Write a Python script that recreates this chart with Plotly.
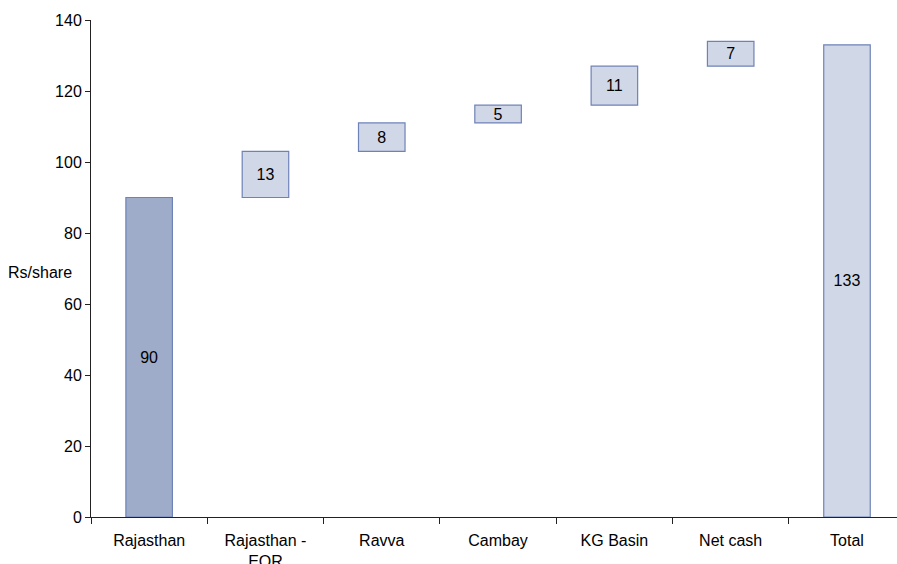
import plotly.graph_objects as go

# Sum-of-the-parts valuation, Rs per share
categories = ["Rajasthan", "Rajasthan -<br>EOR", "Ravva", "Cambay", "KG Basin", "Net cash", "Total"]
component_values = [90, 13, 8, 5, 11, 7]
total_value = 133
y_ticks = [0, 20, 40, 60, 80, 100, 120, 140]

# Floating bases for the step components (each starts where the previous one ended)
bases = []
running = 0
for v in component_values:
    bases.append(running)
    running += v

values = component_values + [total_value]
bar_bases = bases + [0]

dark_fill = "#9eacca"
light_fill = "#d0d7e7"
edge = "#6f82b8"
fills = [dark_fill] + [light_fill] * (len(values) - 1)

FONT = "Liberation Sans, Arial, sans-serif"
FS = 16

fig = go.Figure(
    go.Bar(
        x=categories,
        y=values,
        base=bar_bases,
        width=0.4,
        marker=dict(color=fills, line=dict(color=edge, width=1.2)),
        text=[str(v) for v in values],
        textposition="inside",
        insidetextanchor="middle",
        textangle=0,
        textfont=dict(family=FONT, size=FS, color="#000000"),
        hoverinfo="skip",
    )
)

fig.update_layout(
    width=897,
    height=564,
    margin=dict(l=91, r=0, t=20, b=47),
    paper_bgcolor="white",
    plot_bgcolor="white",
    showlegend=False,
    font=dict(family=FONT, size=FS, color="#000000"),
    uniformtext=dict(minsize=FS, mode="show"),
    bargap=0.6,
)

fig.update_xaxes(
    type="category",
    range=[-0.5, 6.43],
    automargin=False,
    showline=True,
    linecolor="#222222",
    linewidth=1,
    ticks="outside",
    tickson="boundaries",
    ticklen=6,
    tickcolor="#222222",
    ticklabelstandoff=9,
    showgrid=False,
    tickfont=dict(family=FONT, size=FS, color="#000000"),
)

fig.update_yaxes(
    range=[0, 140],
    tickvals=y_ticks,
    automargin=False,
    showline=True,
    linecolor="#222222",
    linewidth=1,
    ticks="outside",
    ticklen=5,
    tickcolor="#222222",
    showgrid=False,
    zeroline=False,
    tickfont=dict(family=FONT, size=FS, color="#000000"),
)

fig.add_annotation(
    text="Rs/share",
    xref="paper",
    yref="y",
    x=-0.021,
    y=69,
    xanchor="right",
    yanchor="middle",
    showarrow=False,
    font=dict(family=FONT, size=FS, color="#000000"),
)

fig.write_html("out.html")
